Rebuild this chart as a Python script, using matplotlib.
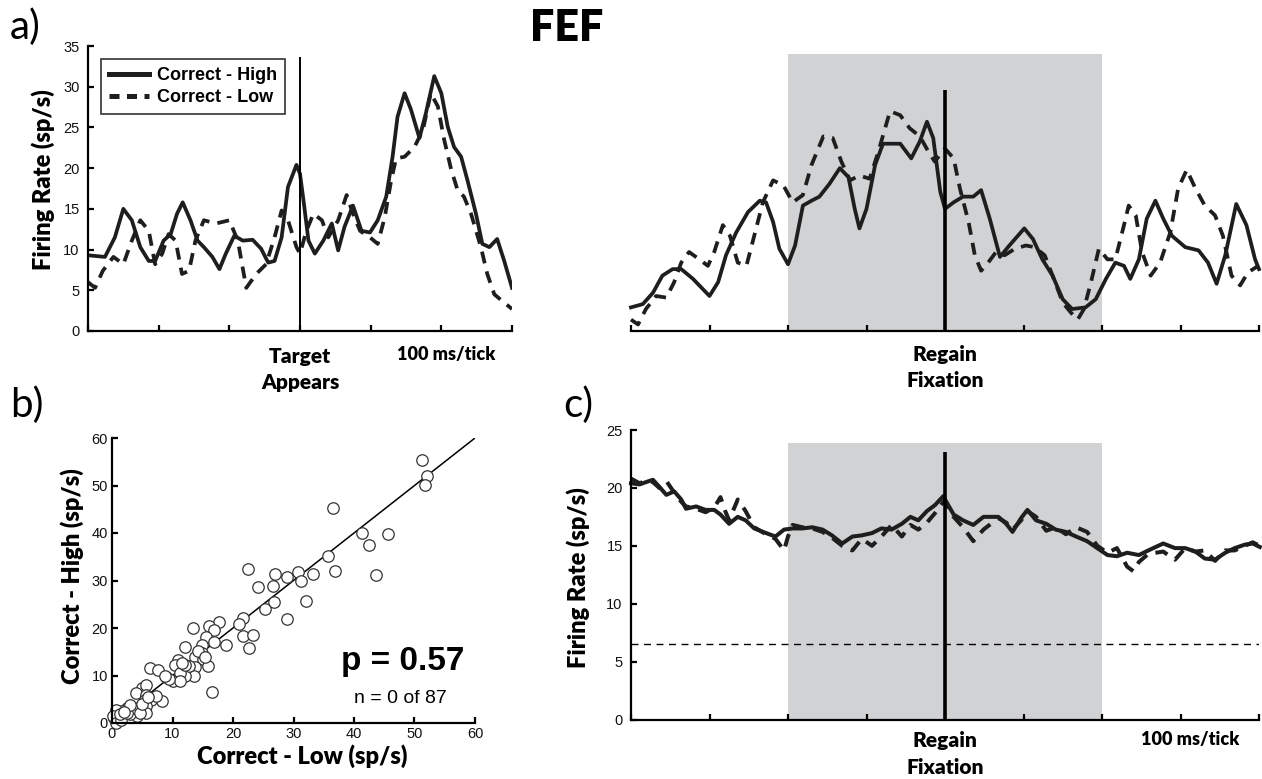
import matplotlib
matplotlib.use("Agg")
import matplotlib.pyplot as plt
from matplotlib.lines import Line2D

# ---------------- DATA ----------------
# Panel a (left): aligned on target appearance (ms)
a1_high_t = [-300, -276, -262, -250, -238, -226, -214, -205, -193, -183, -174, -166, -155, -145, -136,
             -124, -114, -105, -93, -81, -67, -55, -45, -36, -26, -17, -5, 0, 5, 12, 21, 33, 45, 54,
             63, 75, 87, 99, 110, 122, 131, 138, 148, 157, 169, 178, 190, 200, 209, 218, 228, 237,
             249, 258, 268, 279, 289, 300]
a1_high_v = [9.3, 9.1, 11.5, 15.0, 13.6, 10.3, 8.6, 8.6, 11.1, 11.9, 14.4, 15.8, 13.6, 11.1, 10.3,
             9.1, 7.6, 9.5, 11.7, 11.1, 11.2, 10.1, 8.4, 8.6, 11.5, 17.7, 20.4, 19.3, 16.0, 11.1, 9.5,
             11.1, 13.2, 9.9, 12.8, 15.4, 12.3, 12.1, 13.6, 16.5, 21.4, 26.3, 29.2, 27.2, 23.7, 26.7,
             31.3, 29.2, 25.1, 22.6, 21.4, 18.5, 14.4, 10.7, 10.3, 11.3, 8.6, 5.3]
a1_low_t = [-300, -290, -279, -264, -250, -238, -226, -214, -205, -195, -186, -176, -167, -157, -148,
            -136, -119, -100, -88, -76, -62, -48, -36, -26, -17, -5, 0, 9, 19, 31, 40, 54, 66, 75,
            85, 99, 110, 120, 129, 136, 148, 162, 174, 185, 195, 204, 214, 223, 232, 242, 256, 265,
            275, 286, 300]
a1_low_v = [6.0, 5.3, 7.4, 9.1, 8.2, 11.1, 13.6, 12.3, 8.2, 9.5, 11.9, 11.1, 7.0, 7.4, 11.1,
            13.6, 13.2, 13.6, 11.1, 5.3, 7.0, 8.2, 11.5, 14.8, 13.6, 10.3, 9.5, 12.3, 14.4, 13.6,
            11.5, 13.6, 16.7, 14.4, 12.3, 11.5, 10.7, 14.0, 18.5, 21.2, 21.4, 22.6, 24.7, 29.2, 27.6,
            23.5, 19.8, 17.3, 16.5, 14.4, 10.3, 7.0, 4.5, 3.7, 2.7]

# Panel a (right): aligned on regaining fixation (ms)
a2_high_t = [-400, -385, -372, -360, -347, -336, -321, -300, -289, -279, -266, -251, -236, -228, -219,
             -211, -200, -191, -181, -170, -160, -147, -134, -123, -115, -109, -100, -89, -79, -57,
             -43, -32, -23, -15, -6, 0, 11, 23, 36, 46, 57, 70, 82, 101, 112, 124, 137, 150, 162,
             179, 192, 205, 217, 228, 236, 247, 257, 268, 278, 289, 306, 323, 335, 346, 357, 371,
             384, 395, 400]
a2_high_v = [2.9, 3.3, 4.7, 6.8, 7.6, 7.6, 6.4, 4.3, 6.0, 9.3, 12.1, 14.6, 16.0, 15.8, 13.4,
             10.1, 8.2, 10.5, 15.4, 16.0, 16.5, 18.1, 20.0, 18.9, 15.0, 12.6, 15.0, 20.4, 23.0, 23.0,
             21.2, 23.3, 25.7, 23.7, 17.1, 15.0, 15.8, 16.5, 16.5, 17.3, 13.8, 9.1, 10.5, 12.6, 11.3,
             8.8, 6.8, 3.9, 2.7, 2.9, 3.9, 6.4, 8.4, 8.0, 6.4, 8.8, 13.8, 16.0, 13.8, 11.7, 10.3, 9.9,
             8.4, 5.8, 9.3, 15.6, 13.0, 8.8, 7.6]
a2_low_t = [-400, -391, -381, -368, -355, -345, -336, -326, -313, -302, -294, -283, -274, -264, -253,
            -243, -232, -219, -206, -194, -181, -170, -155, -143, -132, -121, -109, -96, -85, -70,
            -57, -45, -32, -21, -13, -2, 0, 11, 19, 30, 38, 46, 55, 65, 76, 89, 103, 114, 127, 137,
            150, 160, 169, 177, 186, 196, 207, 217, 228, 234, 243, 251, 262, 274, 287, 297, 308,
            319, 331, 344, 354, 365, 376, 386, 399]
a2_low_v = [1.4, 0.8, 2.7, 4.3, 4.1, 6.0, 8.4, 9.7, 8.8, 8.0, 9.7, 13.0, 11.7, 8.4, 8.0,
            11.7, 15.8, 18.5, 17.9, 15.8, 16.7, 20.4, 23.9, 23.7, 20.8, 18.5, 19.1, 18.7, 22.0, 27.0,
            26.5, 24.9, 23.9, 22.0, 20.8, 22.2, 22.4, 21.2, 17.5, 13.4, 9.3, 7.4, 8.4, 9.7, 9.3, 10.1,
            10.5, 10.3, 9.3, 6.8, 3.5, 2.3, 1.4, 2.7, 6.0, 10.1, 8.8, 8.8, 13.0, 15.4, 14.2, 9.7, 6.8,
            8.4, 12.1, 17.5, 19.8, 17.5, 15.4, 14.2, 11.7, 6.8, 5.6, 7.2, 8.0]

# Panel b: per-neuron mean firing rates
b_low = [51.3, 52.0, 51.7, 36.6, 41.3, 45.7, 42.5, 35.7, 36.9, 43.7, 33.3, 30.7, 31.3, 29.0, 32.0,
         28.9, 22.5, 27.0, 24.1, 26.6, 26.8, 25.3, 21.7, 21.0, 21.7, 23.3, 22.6, 17.7, 16.1, 16.9,
         13.4, 15.6, 14.8, 12.0, 18.9, 16.9, 13.7, 15.1, 15.9, 13.8, 13.6, 12.0, 10.9, 10.4, 11.2,
         10.1, 11.2, 9.0, 12.7, 6.3, 7.6, 8.3, 16.6, 5.0, 5.7, 3.9, 5.7, 6.5, 5.4, 5.6, 5.7, 4.2,
         2.4, 3.2, 1.7, 0.7, 0.4, 0.1, 0.6, 1.5, 2.9, 3.6, 4.6, 14.8, 14.2, 15.4, 12.0, 7.3, 2.4,
         4.9, 1.3, 9.5, 11.6, 6.0, 3.0, 2.0, 8.8]
b_high = [55.4, 51.9, 50.2, 45.3, 40.1, 39.8, 37.5, 35.1, 31.9, 31.2, 31.4, 31.7, 29.8, 30.7, 25.6,
          21.8, 32.4, 31.4, 28.6, 28.9, 25.5, 23.9, 22.1, 20.8, 18.4, 18.6, 15.7, 21.2, 20.4, 19.6,
          20.1, 18.2, 16.4, 16.0, 16.5, 17.0, 14.0, 13.5, 12.1, 11.8, 10.0, 10.0, 13.3, 12.3, 10.5,
          8.8, 8.8, 9.6, 11.9, 11.5, 11.2, 4.7, 6.5, 7.4, 7.9, 6.3, 6.0, 4.8, 4.9, 3.5, 2.2, 1.4,
          3.2, 2.8, 2.6, 2.8, 1.1, 1.4, 0.0, 0.7, 1.8, 3.2, 2.1, 14.7, 15.1, 14.0, 12.3, 5.6, 2.1,
          3.9, 1.8, 9.2, 12.6, 5.4, 3.8, 2.4, 9.9]
b_fit = [0, 60]

# Panel c: population average aligned on regaining fixation (ms)
c_high_t = [-400, -389, -381, -372, -364, -355, -345, -336, -330, -317, -305, -294, -286, -275, -264,
            -254, -243, -228, -216, -205, -194, -182, -169, -156, -144, -131, -118, -106, -93, -81,
            -68, -55, -44, -34, -23, -13, -2, 0, 11, 23, 36, 49, 68, 78, 86, 97, 105, 116, 129, 141,
            154, 167, 181, 194, 207, 219, 232, 247, 259, 278, 293, 306, 319, 331, 344, 357, 369,
            382, 392, 401]
c_high_v = [20.4, 20.3, 20.5, 20.7, 20.1, 19.4, 19.7, 19.0, 18.2, 18.4, 18.1, 18.1, 17.7, 16.9, 17.5,
            17.2, 16.5, 16.1, 15.8, 16.4, 16.5, 16.5, 16.6, 16.4, 15.9, 15.2, 15.8, 15.9, 16.1, 16.5,
            16.4, 16.9, 17.5, 17.2, 18.0, 18.5, 19.3, 19.0, 17.7, 17.2, 16.8, 17.5, 17.5, 16.9, 16.2,
            17.4, 18.1, 17.2, 16.9, 16.4, 16.2, 15.8, 15.4, 14.8, 14.2, 14.1, 14.4, 14.2, 14.6, 15.2,
            14.8, 14.8, 14.5, 13.9, 13.8, 14.4, 14.8, 15.1, 15.2, 14.9]
c_low_t = [-400, -389, -381, -372, -364, -355, -345, -336, -330, -317, -305, -294, -286, -280, -275,
           -264, -254, -243, -228, -216, -205, -200, -194, -182, -169, -156, -144, -131, -118, -106,
           -93, -81, -68, -55, -44, -34, -23, -13, -2, 0, 11, 23, 36, 49, 68, 78, 86, 97, 105, 116,
           129, 141, 154, 167, 181, 194, 207, 219, 232, 240, 247, 259, 278, 293, 306, 319, 331, 344,
           357, 369, 382, 392, 401]
c_low_v = [20.8, 20.4, 20.6, 20.5, 20.0, 20.6, 19.6, 18.8, 18.4, 18.2, 17.9, 18.3, 19.2, 18.0, 17.2,
           19.0, 18.0, 16.6, 16.0, 15.6, 14.6, 15.8, 16.8, 16.6, 16.5, 16.2, 15.7, 15.0, 14.6, 15.6,
           15.0, 15.8, 16.8, 15.8, 16.8, 16.4, 17.0, 17.8, 18.8, 18.8, 17.5, 16.6, 15.4, 16.4, 17.4,
           17.0, 16.4, 17.2, 18.0, 17.5, 16.3, 16.6, 16.0, 16.6, 16.2, 15.0, 14.4, 14.8, 13.2, 12.8,
           13.6, 14.3, 14.5, 13.8, 14.8, 14.5, 14.6, 13.7, 14.6, 14.6, 15.0, 15.3, 15.0]
c_baseline = 6.5

series_names = ["Correct - High", "Correct - Low"]
a_yticks = [0, 5, 10, 15, 20, 25, 30, 35]
b_ticks = [0, 10, 20, 30, 40, 50, 60]
c_yticks = [0, 5, 10, 15, 20, 25]
a1_xticks = [-300, -200, -100, 0, 100, 200, 300]
a2_xticks = [-400, -300, -200, -100, 0, 100, 200, 300, 400]

# ---------------- STYLE ----------------
W, H = 1262, 779
fig = plt.figure(figsize=(W / 100, H / 100), dpi=100)
TICKFONT = dict(family="Liberation Sans", size=10.5)
LABELFONT = dict(family="Lato", weight="heavy", size=17)
EVFONT = dict(family="Lato", weight="heavy", size=15)
MSFONT = dict(family="Lato", weight="heavy", size=13)
LINE = "#1e1e1e"
SHADE = "#d1d2d4"
DASH = (0, (3.2, 2.2))


def ax_at(x0, y0, x1, y1):
    return fig.add_axes([x0 / W, 1 - y1 / H, (x1 - x0) / W, (y1 - y0) / H])


def style(ax, left=True):
    for s in ["top", "right"]:
        ax.spines[s].set_visible(False)
    ax.spines["left"].set_visible(left)
    for s in ["left", "bottom"]:
        ax.spines[s].set_linewidth(1.6)
    ax.tick_params(direction="in", length=4, width=1.6, pad=6)
    ax.patch.set_alpha(0)
    for lab in ax.get_xticklabels() + ax.get_yticklabels():
        lab.set_fontfamily(TICKFONT["family"])
        lab.set_fontsize(TICKFONT["size"])
        lab.set_color("#111111")


# ---- panel a left ----
ax1 = ax_at(88, 46, 512, 331)
ax1.plot(a1_high_t, a1_high_v, color=LINE, lw=2.7, solid_joinstyle="round")
ax1.plot(a1_low_t, a1_low_v, color=LINE, lw=2.7, linestyle=DASH)
ax1.vlines(0, 0, 33.6, color="black", lw=1.4)
ax1.set_xlim(-300, 300)
ax1.set_ylim(0, 35)
ax1.set_xticks(a1_xticks)
ax1.set_xticklabels([])
ax1.set_yticks(a_yticks)
style(ax1)
handles = [Line2D([], [], color=LINE, lw=3.6),
           Line2D([], [], color=LINE, lw=3.6, linestyle=(0, (2.0, 1.5)))]
leg = ax1.legend(handles, series_names, loc="upper left", bbox_to_anchor=(0.03, 0.955),
                 borderaxespad=0, frameon=True, fancybox=False, handlelength=2.2,
                 handletextpad=0.45, borderpad=0.45, labelspacing=0.3,
                 prop=dict(family="Liberation Sans", weight="bold", size=13))
leg.get_frame().set_edgecolor("black")
leg.get_frame().set_linewidth(1.2)
fig.text(43 / W, 1 - 180 / H, "Firing Rate (sp/s)", rotation=90, ha="center", va="center", **LABELFONT)

# ---- panel a right ----
ax2 = ax_at(631, 46, 1259, 331)
ax2.fill_between([-200, 200], 0, 34, color=SHADE, lw=0, zorder=0)
ax2.plot(a2_high_t, a2_high_v, color=LINE, lw=2.7, solid_joinstyle="round", clip_on=False)
ax2.plot(a2_low_t, a2_low_v, color=LINE, lw=2.7, linestyle=DASH, clip_on=False)
ax2.vlines(0, 0, 29.6, color="black", lw=2.6)
ax2.set_xlim(-400, 400)
ax2.set_ylim(0, 35)
ax2.set_xticks(a2_xticks)
ax2.set_xticklabels([])
ax2.set_yticks([])
style(ax2, left=False)

# ---- panel b ----
ax3 = ax_at(112, 438, 475, 723)
ax3.plot(b_fit, b_fit, color="black", lw=1.1, zorder=1)
ax3.scatter(b_low, b_high, s=68, facecolors="white", edgecolors="#333333", linewidths=0.9,
            zorder=2, clip_on=False)
ax3.set_xlim(0, 60)
ax3.set_ylim(0, 60)
ax3.set_xticks(b_ticks)
ax3.set_yticks(b_ticks)
style(ax3)
ax3.tick_params(pad=3)
ax3.text(48.0, 12.9, "p = 0.57", ha="center", va="center", family="Liberation Sans",
         weight="bold", size=24)
ax3.text(47.6, 5.1, "n = 0 of 87", ha="center", va="center", family="Liberation Sans", size=14)
fig.text(302 / W, 1 - 756 / H, "Correct - Low (sp/s)", ha="center", va="center", **LABELFONT)
fig.text(72 / W, 1 - 576 / H, "Correct - High (sp/s)", rotation=90, ha="center", va="center", **LABELFONT)

# ---- panel c ----
ax4 = ax_at(631, 430, 1259, 719.5)
ax4.fill_between([-200, 200], 0, 23.9, color=SHADE, lw=0, zorder=0)
ax4.axhline(c_baseline, color="black", lw=1.0, linestyle=(0, (5, 4)))
ax4.plot(c_high_t, c_high_v, color=LINE, lw=2.9, solid_joinstyle="round", clip_on=False)
ax4.plot(c_low_t, c_low_v, color=LINE, lw=2.9, linestyle=DASH, clip_on=False)
ax4.vlines(0, 0, 23.1, color="black", lw=2.6)
ax4.set_xlim(-400, 400)
ax4.set_ylim(0, 25)
ax4.set_xticks(a2_xticks)
ax4.set_xticklabels([])
ax4.set_yticks(c_yticks)
style(ax4)
fig.text(578 / W, 1 - 578 / H, "Firing Rate (sp/s)", rotation=90, ha="center", va="center", **LABELFONT)

# ---- event labels ----
fig.text(300 / W, 1 - 356 / H, "Target", ha="center", va="center", **EVFONT)
fig.text(300 / W, 1 - 383 / H, "Appears", ha="center", va="center", **EVFONT)
fig.text(446 / W, 1 - 355 / H, "100 ms/tick", ha="center", va="center", **MSFONT)
fig.text(945 / W, 1 - 355 / H, "Regain", ha="center", va="center", **EVFONT)
fig.text(945 / W, 1 - 381 / H, "Fixation", ha="center", va="center", **EVFONT)
fig.text(945 / W, 1 - 740 / H, "Regain", ha="center", va="center", **EVFONT)
fig.text(945 / W, 1 - 767 / H, "Fixation", ha="center", va="center", **EVFONT)
fig.text(1190 / W, 1 - 740 / H, "100 ms/tick", ha="center", va="center", **MSFONT)

# ---- panel letters and title ----
PL = dict(family="Lato", weight="normal", size=29, ha="left", va="center")
fig.text(10 / W, 1 - 27 / H, "a)", **PL)
fig.text(10 / W, 1 - 405 / H, "b)", **PL)
fig.text(563 / W, 1 - 405 / H, "c)", **PL)
fig.text(567 / W, 1 - 28 / H, "FEF", ha="center", va="center", family="Lato", weight="heavy", size=31)

fig.savefig("out.png", dpi=100)
